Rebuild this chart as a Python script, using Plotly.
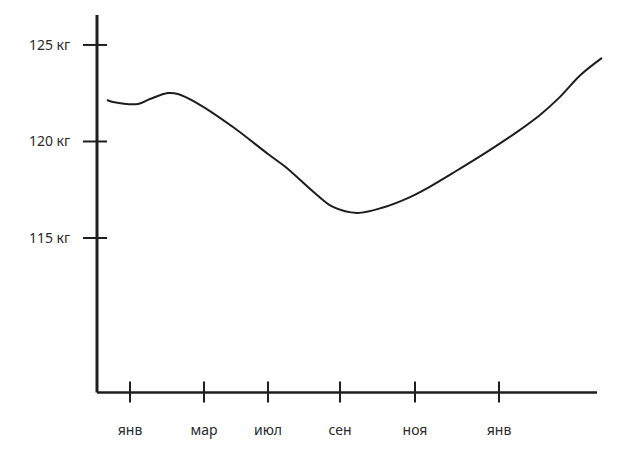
import plotly.graph_objects as go

# Data (x in arbitrary time units along the axis, y in kg)
x_vals = [10, 16, 41, 53, 71, 81, 100, 136, 171, 188, 220, 236, 260,
          286, 313, 333, 356, 390, 423, 443, 463, 483, 505]
weight = [122.15, 122.05, 121.94, 122.2, 122.51, 122.46, 121.99, 120.75, 119.35,
          118.70, 117.23, 116.61, 116.30, 116.58, 117.12, 117.66, 118.37,
          119.46, 120.60, 121.37, 122.31, 123.42, 124.33]

x_tick_vals = [33, 107, 171, 243, 318, 402]
x_tick_text = ["янв", "мар", "июл", "сен", "ноя", "янв"]
y_tick_vals = [115, 120, 125]
y_tick_text = ["115 кг", "120 кг", "125 кг"]

X_MIN, X_MAX = 0, 500
Y_MIN, Y_TOP = 107, 126.55

ink = "#1e1e1e"
font = dict(family="Noto Sans, DejaVu Sans, sans-serif", size=14, color="#2a2a2a")

fig = go.Figure()
fig.add_trace(go.Scatter(
    x=x_vals, y=weight, mode="lines",
    line=dict(color=ink, width=2, shape="spline", smoothing=1.0),
    hoverinfo="skip", showlegend=False,
))

shapes = [
    dict(type="line", xref="x", yref="y", x0=X_MIN, x1=X_MIN, y0=Y_MIN, y1=Y_TOP,
         line=dict(color=ink, width=3)),
    dict(type="line", xref="x", yref="y", x0=X_MIN, x1=X_MAX, y0=Y_MIN, y1=Y_MIN,
         line=dict(color=ink, width=2.5)),
]
for xv in x_tick_vals:
    shapes.append(dict(type="line", xref="x", yref="y", ysizemode="pixel", yanchor=Y_MIN,
                       x0=xv, x1=xv, y0=-10, y1=11, line=dict(color=ink, width=2)))
for yv in y_tick_vals:
    shapes.append(dict(type="line", xref="x", yref="y", xsizemode="pixel", xanchor=X_MIN,
                       y0=yv, y1=yv, x0=-14, x1=10, line=dict(color=ink, width=2)))

fig.update_layout(
    width=629, height=455,
    margin=dict(l=80, r=19, t=10, b=49),
    paper_bgcolor="white", plot_bgcolor="white",
    font=font,
    shapes=shapes,
    xaxis=dict(range=[-17, 513], tickvals=x_tick_vals, ticktext=x_tick_text,
               showgrid=False, zeroline=False, showline=False, fixedrange=True,
               ticks="outside", ticklen=11, tickcolor="rgba(0,0,0,0)", tickfont=font),
    yaxis=dict(range=[106.30, 126.81], tickvals=y_tick_vals, ticktext=y_tick_text,
               showgrid=False, zeroline=False, showline=False, fixedrange=True,
               ticks="outside", ticklen=6, tickcolor="rgba(0,0,0,0)", tickfont=font),
)

fig.write_html("out.html", config={"displayModeBar": False},
               post_script="document.body.style.margin='0';document.body.style.overflow='hidden';")
